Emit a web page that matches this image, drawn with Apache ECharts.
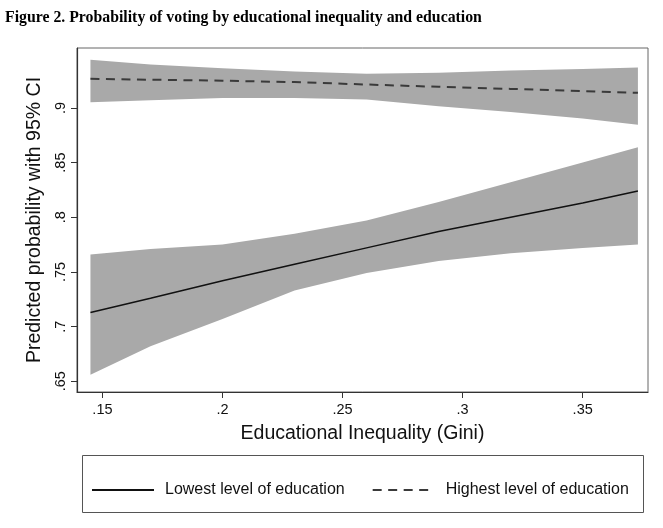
<!DOCTYPE html>
<html>
<head>
<meta charset="utf-8">
<title>Figure 2</title>
<script src="https://cdn.jsdelivr.net/npm/echarts/dist/echarts.min.js"></script>
<style>
	html, body { margin: 0; padding: 0; background: #fff; }
	#chartBox { width: 663px; height: 528px; }
</style>
</head>
<body>
<div id="chartBox"></div>
<script>
// x 取值 (教育基尼系数)
var gini = [0.145, 0.17, 0.20, 0.23, 0.26, 0.29, 0.32, 0.35, 0.373];
// 最低教育水平: 预测值及 95% 置信区间
var lowMean  = [0.713, 0.726, 0.742, 0.757, 0.772, 0.787, 0.800, 0.813, 0.824];
var lowUpper = [0.766, 0.771, 0.775, 0.785, 0.797, 0.814, 0.832, 0.850, 0.864];
var lowLower = [0.656, 0.682, 0.707, 0.733, 0.749, 0.760, 0.767, 0.772, 0.775];
// 最高教育水平
var highMean  = [0.9266, 0.9258, 0.9249, 0.9236, 0.9214, 0.9193, 0.9174, 0.9154, 0.9138];
var highUpper = [0.944, 0.9397, 0.9362, 0.9334, 0.9312, 0.9322, 0.9343, 0.9357, 0.937];
var highLower = [0.9053, 0.907, 0.909, 0.909, 0.9078, 0.9015, 0.8962, 0.8903, 0.8845];
// 刻度
var xTicks = [0.15, 0.2, 0.25, 0.3, 0.35];
var yTicks = [0.65, 0.7, 0.75, 0.8, 0.85, 0.9];

var lowName = 'Lowest level of education';
var highName = 'Highest level of education';
var bandColor = '#a9a9a9';
var sans = '"Liberation Sans", Arial, sans-serif';

//组合 [x, y]
function pairs(ys) {
	return gini.map(function (x, i) { return [x, ys[i]]; });
}
//.65 这种写法
function stataLabel(v) {
	return String(v).replace(/^0/, '');
}

//置信区间: 一个多边形, 上沿正向 + 下沿反向
function band(up, lo) {
	return {
		type: 'custom', silent: true, z: 1,
		data: gini.map(function (x, i) { return [x, lo[i], up[i]]; }),
		encode: { x: 0, y: [1, 2] },
		renderItem: function (params, api) {
			if (params.dataIndex !== 0) return;
			var pts = [];
			for (var i = 0; i < gini.length; i++) pts.push(api.coord([gini[i], up[i]]));
			for (var j = gini.length - 1; j >= 0; j--) pts.push(api.coord([gini[j], lo[j]]));
			return {
				type: 'polygon',
				shape: { points: pts },
				style: { fill: bandColor, stroke: null }
			};
		}
	};
}

var myChart = echarts.init(document.getElementById('chartBox'));
var option = {
	backgroundColor: '#fff',
	animation: false,
	title: {
		text: 'Figure 2. Probability of voting by educational inequality and education',
		left: 5, top: 10, padding: 0,
		textStyle: { fontFamily: '"Liberation Serif", "Times New Roman", serif', fontWeight: 'bold', fontSize: 15.8, color: '#000' }
	},
	grid: {
		left: 77, top: 48, right: 15, bottom: 136,
		show: true, borderColor: '#666', borderWidth: 1
	},
	legend: {
		data: [lowName, highName],
		left: 91, top: 482, padding: 0,
		itemWidth: 62, itemHeight: 16, itemGap: 27,
		itemStyle: { opacity: 0 },
		textStyle: { fontFamily: sans, fontSize: 16, color: '#111', padding: [0, 0, 0, 6] }
	},
	graphic: [{
		type: 'rect', silent: true,
		shape: { x: 82.5, y: 455.5, width: 561, height: 57 },
		style: { fill: 'none', stroke: '#555', lineWidth: 1 }
	}],
	xAxis: {
		type: 'value', min: 0.1394, max: 0.3772,
		name: 'Educational Inequality (Gini)', nameLocation: 'middle', nameGap: 32,
		nameTextStyle: { fontFamily: sans, fontSize: 19.5, color: '#111' },
		axisLine: { show: true, lineStyle: { color: '#333', width: 1.2 } },
		axisTick: { show: true, length: 6, customValues: xTicks, lineStyle: { color: '#333' } },
		axisLabel: { customValues: xTicks, formatter: stataLabel, margin: 10, fontFamily: sans, fontSize: 14.5, color: '#111' },
		splitLine: { show: false }
	},
	yAxis: {
		type: 'value', min: 0.6402, max: 0.9548,
		name: 'Predicted probability with 95% CI', nameLocation: 'middle', nameGap: 30,
		nameTextStyle: { fontFamily: sans, fontSize: 19.5, color: '#111' },
		axisLine: { show: true, lineStyle: { color: '#333', width: 1.2 } },
		axisTick: { show: true, length: 6, customValues: yTicks, lineStyle: { color: '#333' } },
		axisLabel: { customValues: yTicks, formatter: stataLabel, rotate: 90, margin: 9, fontFamily: sans, fontSize: 14.5, color: '#111' },
		splitLine: { show: false }
	},
	series: [
		band(lowUpper, lowLower),
		band(highUpper, highLower),
		{
			name: lowName, type: 'line', data: pairs(lowMean),
			symbol: 'none', z: 3,
			lineStyle: { color: '#111', width: 1.5, type: 'solid' },
			itemStyle: { color: '#111' }
		},
		{
			name: highName, type: 'line', data: pairs(highMean),
			symbol: 'none', z: 3,
			lineStyle: { color: '#3a3a3a', width: 2, type: [9, 6.5] },
			itemStyle: { color: '#3a3a3a' }
		}
	]
};
myChart.setOption(option);
</script>
</body>
</html>
